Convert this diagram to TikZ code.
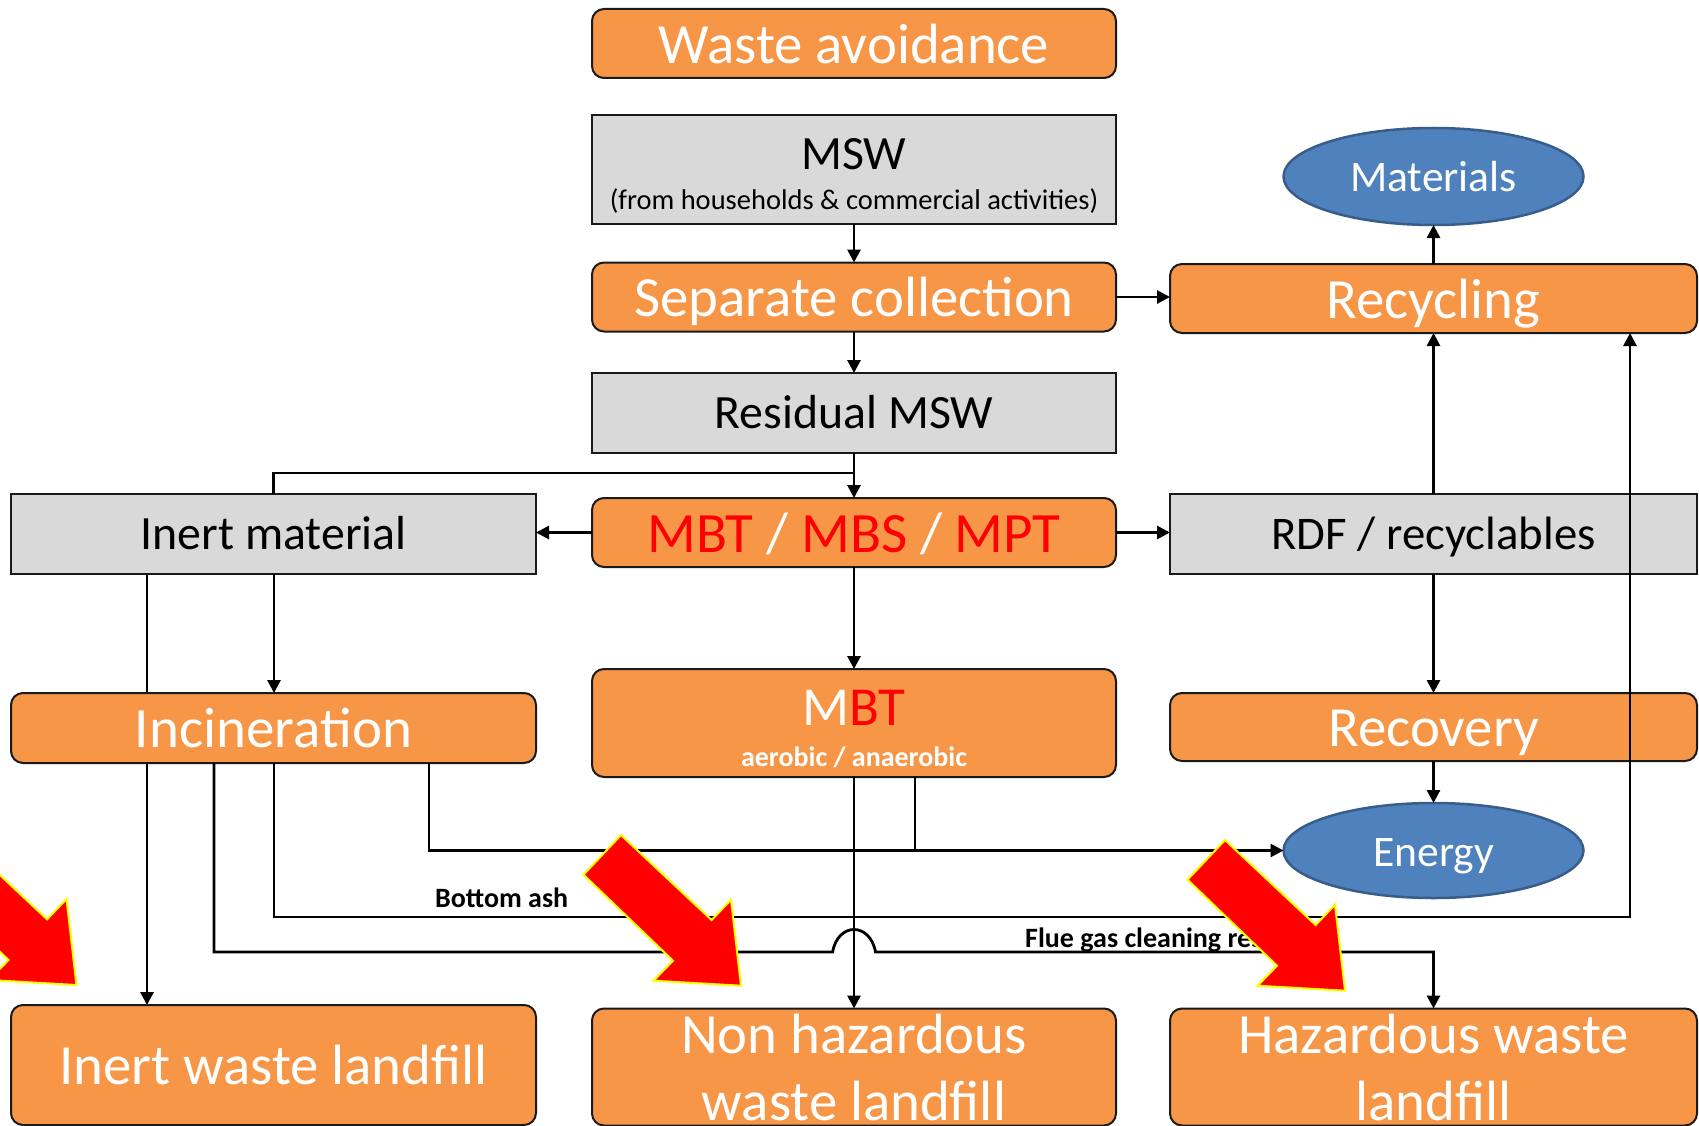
\documentclass[tikz,border=0pt]{standalone}
\usepackage{fontspec}
\setmainfont{Carlito}
\usetikzlibrary{arrows.meta,shapes.geometric}
\pgfdeclarelayer{bg}
\pgfsetlayers{bg,main}
\definecolor{orng}{HTML}{F79646}
\definecolor{gry}{HTML}{D9D9D9}
\definecolor{blu}{HTML}{4F81BD}
\definecolor{bluedge}{HTML}{385D8A}
\definecolor{bdr}{HTML}{1A1A1A}
\definecolor{pured}{HTML}{FF0000}
\definecolor{yel}{HTML}{FFFF00}
\tikzset{
 obox/.style={rectangle, rounded corners=12pt, fill=orng, draw=bdr, line width=2pt, text=white, inner sep=0pt, outer sep=0pt, align=center, font=\fontsize{56.8}{67}\selectfont, text height=39.5pt, text depth=0pt},
 obox2/.style={rectangle, rounded corners=12pt, fill=orng, draw=bdr, line width=2pt, text=white, inner sep=0pt, outer sep=0pt, align=center, font=\fontsize{56.8}{67}\selectfont},
 gbox/.style={rectangle, fill=gry, draw=bdr, line width=2pt, text=black, inner sep=0pt, outer sep=0pt, align=center, font=\fontsize{47.8}{56}\selectfont, text height=30pt, text depth=0pt},
 gbox2/.style={rectangle, fill=gry, draw=bdr, line width=2pt, inner sep=0pt, outer sep=0pt},
 txt/.style={inner sep=0pt, anchor=base},
 bell/.style={ellipse, fill=blu, draw=bluedge, line width=2.5pt, text=white, inner sep=0pt, outer sep=0pt, minimum width=300pt, font=\fontsize{43.6}{50}\selectfont, text height=31pt, text depth=0pt},
 conn/.style={line width=2.8pt, draw=black},
 arr/.style={conn, -{Triangle[length=13pt,width=13pt]}},
 lbl/.style={font=\bfseries\fontsize{28}{32}\selectfont, inner sep=0pt, text=black},
 redarr/.style={fill=pured, draw=yel, line width=2pt, line join=miter},
 bigarrow/.pic={\filldraw[redarr] (0,0) -- (-10,-86) -- (-29.4,-65.7) -- (-120,-150.7) -- (-157.5,-111) -- (-68,-25) -- (-87.5,-5) -- cycle;}
}
\begin{document}
\begin{tikzpicture}[x=1pt,y=-1pt]
\useasboundingbox (0,0) rectangle (1699,1126);
\clip (0,0) rectangle (1699,1126);
\begin{pgfonlayer}{bg}
\fill[white] (0,0) rectangle (1699,1126);
\end{pgfonlayer}

% nodes
\node[obox, minimum width=524pt, minimum height=69pt] (avoid) at (854,43.5) {Waste avoidance};
\node[gbox2, minimum width=524pt, minimum height=109pt] (msw) at (854,169.5) {};
\node[txt, font=\fontsize{47.8}{56}\selectfont] (mswt) at (854,170) {MSW};
\node[txt, font=\fontsize{28.5}{33}\selectfont] (mswsub) at (854,209) {(from households \& commercial activities)};
\node[obox, minimum width=524pt, minimum height=69pt] (sep) at (854,297) {Separate collection};
\node[gbox, minimum width=524pt, minimum height=80pt] (resid) at (854,413) {Residual MSW};
\node[obox, minimum width=524pt, minimum height=69pt, font=\fontsize{57}{67}\selectfont] (mbt) at (854,532.5) {\textcolor{pured}{MBT} / \textcolor{pured}{MBS} / \textcolor{pured}{MPT}};
\node[gbox, minimum width=525pt, minimum height=80pt] (inert) at (273.5,534) {Inert material};
\node[gbox, minimum width=527pt, minimum height=80pt, font=\fontsize{46.8}{56}\selectfont] (rdf) at (1433.5,534) {RDF / recyclables};
\node[obox, minimum width=527pt, minimum height=69pt] (recyc) at (1433.5,298.5) {Recycling};
\node[bell, minimum height=97pt] (mat) at (1433.5,176.5) {Materials};
\node[obox, minimum width=525pt, minimum height=70pt, font=\fontsize{57}{67}\selectfont] (incin) at (273.5,728) {Incineration};
\node[obox2, minimum width=524pt, minimum height=108pt] (mbt2) at (854,723) {};
\node[txt, text=white, font=\fontsize{55}{60}\selectfont] (mbt2t) at (854,725) {M\textcolor{pured}{BT}};
\node[txt, text=white, font=\bfseries\fontsize{28}{32}\selectfont] (mbt2sub) at (854,766) {aerobic / anaerobic};
\node[obox, minimum width=527pt, minimum height=68pt] (recov) at (1433.5,727) {Recovery};
\node[bell, minimum height=95pt] (energy) at (1433.5,850.5) {Energy};
\node[obox, minimum width=525pt, minimum height=120pt] (inlf) at (273.5,1065) {Inert waste landfill};
\node[obox2, minimum width=524pt, minimum height=117pt] (nhlf) at (854,1067) {Non hazardous\\waste landfill};
\node[obox2, minimum width=527pt, minimum height=117pt] (hlf) at (1433.5,1067) {Hazardous waste\\landfill};

% helper coordinates
\coordinate (xa) at (147,0);
\coordinate (xb) at (214,0);
\coordinate (xc) at (274,0);
\coordinate (xd) at (429,0);
\coordinate (xe) at (915,0);
\coordinate (xf) at (1630,0);
\coordinate (br) at (854,473);
\coordinate (yba) at (0,917);
\coordinate (hopL) at (832.6,952);
\coordinate (hopR) at (875.5,952);

% connectors
\begin{pgfonlayer}{bg}
\draw[arr] (inert.south -| xa) -- (inlf.north -| xa);
\end{pgfonlayer}
\draw[arr] (msw.south) -- (sep.north);
\draw[arr] (sep.south) -- (resid.north);
\draw[arr] (sep.east) -- (sep.east -| recyc.west);
\draw[arr] (recyc.north) -- (mat.south);
\draw[arr] (resid.south) -- (mbt.north);
\draw[conn] (br) -| (inert.north);
\draw[arr] (mbt.west) -- (mbt.west -| inert.east);
\draw[arr] (mbt.east) -- (mbt.east -| rdf.west);
\draw[arr] (mbt.south) -- (mbt2.north);
\draw[arr] (rdf.north) -- (recyc.south);
\draw[arr] (rdf.south) -- (recov.north);
\draw[arr] (recov.south) -- (energy.north);
\draw[arr] (inert.south -| xc) -- (incin.north -| xc);
\draw[arr] (incin.south -| xd) |- (energy.west);
\draw[conn] (mbt2.south -| xe) -- (xe |- energy.west);
\draw[arr] (incin.south -| xc) |- (xf |- yba) -- (recyc.south -| xf);
\draw[arr] (incin.south -| xb) |- (hopL) .. controls (838,922) and (870,922) .. (hopR) -| (hlf.north);
\draw[arr] (mbt2.south) -- (nhlf.north);

% labels
\node[lbl, anchor=base west] (ba) at (435,907) {Bottom ash};
\node[lbl, anchor=base west] (fg) at (1025,947) {Flue gas cleaning residues};

% red arrows
\pic at (76.5,985) {bigarrow};
\pic at (741,985.7) {bigarrow};
\pic at (1345,990.7) {bigarrow};
\end{tikzpicture}
\end{document}
